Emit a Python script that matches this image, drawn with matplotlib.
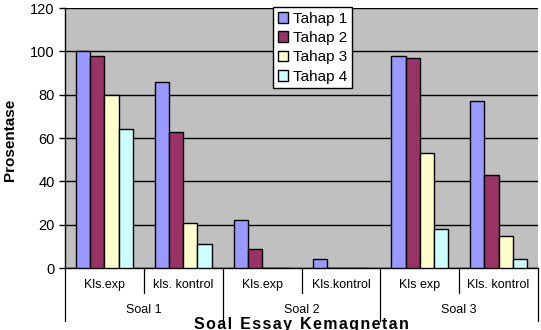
import numpy as np
import matplotlib.pyplot as plt
from matplotlib.patches import Patch

plt.rcParams['font.family'] = ['Liberation Sans', 'DejaVu Sans']

# data
kelas = ['Kls.exp', 'kls. kontrol', 'Kls.exp', 'Kls.kontrol', 'Kls exp', 'Kls. kontrol']
soal = ['Soal 1', 'Soal 2', 'Soal 3']
tahap = ['Tahap 1', 'Tahap 2', 'Tahap 3', 'Tahap 4']
tahap1 = [100, 86, 22, 4, 98, 77]
tahap2 = [98, 63, 9, 0, 97, 43]
tahap3 = [80, 21, 0, 0, 53, 15]
tahap4 = [64, 11, 0, 0, 18, 4]
warna = ['#9999FF', '#993366', '#FFFFCC', '#CCFFFF']

fig = plt.figure(figsize=(5.41, 3.30), dpi=100)
ax = fig.add_axes([65/541, 62/330, 473/541, 260/330])
ax.set_facecolor('#C0C0C0')

x = np.arange(len(kelas))
w = 0.18
series = [tahap1, tahap2, tahap3, tahap4]
for i, vals in enumerate(series):
    ax.bar(x + (i - 1.5) * w, vals, w, color=warna[i], edgecolor='black',
           linewidth=1.0, zorder=3, label=tahap[i])

ax.set_xlim(-0.5, len(kelas) - 0.5)
ax.set_ylim(0, 120)
ax.set_yticks(range(0, 121, 20))
ax.yaxis.grid(True, color='black', linewidth=1.0, zorder=1)
ax.tick_params(axis='y', labelsize=10.5, length=4, width=1, direction='out')
ax.set_xticks([])
for s in ['top', 'right']:
    ax.spines[s].set_visible(False)
ax.spines['left'].set_linewidth(1)
ax.spines['bottom'].set_linewidth(1)

# multi-level x labels
trans = ax.get_xaxis_transform()
for i, lab in enumerate(kelas):
    ax.text(i, -0.065, lab, transform=trans, ha='center', va='center', fontsize=9)
for k in range(len(kelas) + 1):
    xb = k - 0.5
    bottom = -0.205 if k % 2 == 0 else -0.095
    ax.plot([xb, xb], [0, bottom], transform=trans, color='black', lw=0.9, clip_on=False)
for j, lab in enumerate(soal):
    ax.text(2 * j + 0.5, -0.162, lab, transform=trans, ha='center', va='center', fontsize=9)

fig.text((65 + 538) / 2 / 541, 1 - 324 / 330, 'S o a l  E s s a y  K e m a g n e t a n'.replace('  ', '\u2002').replace(' ', '\u200a'),
         ha='center', va='center', fontsize=11.5, fontweight='bold')
fig.text(10 / 541, 1 - 140 / 330, 'Prosentase', rotation=90, ha='center', va='center',
         fontsize=11, fontweight='bold')

handles = [Patch(facecolor=warna[i], edgecolor='black', label=tahap[i]) for i in range(4)]
leg = fig.legend(handles=handles, loc='upper left', bbox_to_anchor=(273/541, 1 - 7/330),
                 fontsize=11, frameon=True, fancybox=False, edgecolor='black',
                 handlelength=0.7, handleheight=0.7, handletextpad=0.3,
                 borderpad=0.3, labelspacing=0.35, borderaxespad=0)
leg.get_frame().set_linewidth(1)
leg.get_frame().set_facecolor('white')
leg.get_frame().set_alpha(1)

plt.savefig('out.png', dpi=100)
